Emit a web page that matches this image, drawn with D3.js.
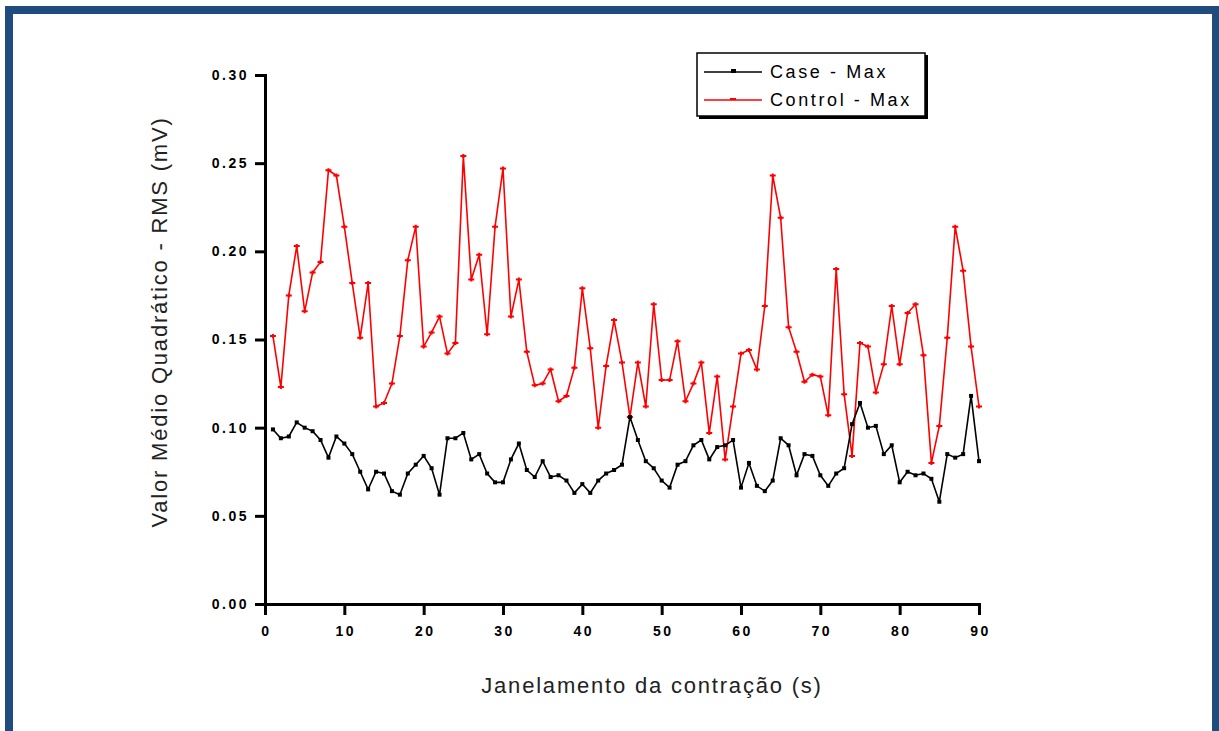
<!DOCTYPE html>
<html lang="pt">
<head>
  <meta charset="UTF-8">
  <title>RMS - Case x Control</title>
  <script src="https://d3js.org/d3.v7.min.js"></script>
  <style>
    body {
      margin: 0;
      background-color: white;
      font-family: "Liberation Sans", Arial, sans-serif;
    }
    .tick-label {
      font-size: 14px;
      font-weight: bold;
      letter-spacing: 2.5px;
      fill: #000;
    }
    .axis-title {
      font-size: 22px;
      letter-spacing: 1.8px;
      fill: #222;
    }
    .legend-text {
      font-size: 18px;
      letter-spacing: 2.6px;
      fill: #000;
    }
  </style>
</head>
<body>
  <div id="chart"></div>

  <script>
    // janelas de 1 s (1..90)
    const windows = d3.range(1, 91);

    const caseMax = [
      0.099, 0.094, 0.095, 0.103, 0.100, 0.098, 0.093, 0.083, 0.095, 0.091,
      0.085, 0.075, 0.065, 0.075, 0.074, 0.064, 0.062, 0.074, 0.079, 0.084,
      0.077, 0.062, 0.094, 0.094, 0.097, 0.082, 0.085, 0.074, 0.069, 0.069,
      0.082, 0.091, 0.076, 0.072, 0.081, 0.072, 0.073, 0.070, 0.063, 0.068,
      0.063, 0.070, 0.074, 0.076, 0.079, 0.106, 0.093, 0.081, 0.077, 0.070,
      0.066, 0.079, 0.081, 0.090, 0.093, 0.082, 0.089, 0.090, 0.093, 0.066,
      0.080, 0.067, 0.064, 0.070, 0.094, 0.090, 0.073, 0.085, 0.084, 0.073,
      0.067, 0.074, 0.077, 0.102, 0.114, 0.100, 0.101, 0.085, 0.090, 0.069,
      0.075, 0.073, 0.074, 0.071, 0.058, 0.085, 0.083, 0.085, 0.118, 0.081
    ];

    const controlMax = [
      0.152, 0.123, 0.175, 0.203, 0.166, 0.188, 0.194, 0.246, 0.243, 0.214,
      0.182, 0.151, 0.182, 0.112, 0.114, 0.125, 0.152, 0.195, 0.214, 0.146,
      0.154, 0.163, 0.142, 0.148, 0.254, 0.184, 0.198, 0.153, 0.214, 0.247,
      0.163, 0.184, 0.143, 0.124, 0.125, 0.133, 0.115, 0.118, 0.134, 0.179,
      0.145, 0.100, 0.135, 0.161, 0.137, 0.106, 0.137, 0.112, 0.170, 0.127,
      0.127, 0.149, 0.115, 0.125, 0.137, 0.097, 0.129, 0.082, 0.112, 0.142,
      0.144, 0.133, 0.169, 0.243, 0.219, 0.157, 0.143, 0.126, 0.130, 0.129,
      0.107, 0.190, 0.119, 0.084, 0.148, 0.146, 0.120, 0.136, 0.169, 0.136,
      0.165, 0.170, 0.141, 0.080, 0.101, 0.151, 0.214, 0.189, 0.146, 0.112
    ];

    const xMajor = [0, 10, 20, 30, 40, 50, 60, 70, 80, 90];
    const xMinor = [5, 15, 25, 35, 45, 55, 65, 75, 85];
    const yMajor = [0, 0.05, 0.10, 0.15, 0.20, 0.25, 0.30];
    const yMinor = [0.025, 0.075, 0.125, 0.175, 0.225, 0.275];

    const seriesNames = ['Case - Max', 'Control - Max'];
    const seriesColors = ['#000000', '#ff0000'];

    const W = 1219, H = 731;
    const margin = { top: 75, right: 240, bottom: 127, left: 265 };
    const width = W - margin.left - margin.right;   // 714
    const height = H - margin.top - margin.bottom;  // 529

    const svg = d3.select('#chart')
      .append('svg')
      .attr('width', W)
      .attr('height', H);

    // moldura azul
    svg.append('rect')
      .attr('x', 9)
      .attr('y', 10)
      .attr('width', 1207)
      .attr('height', 725)
      .attr('fill', 'none')
      .attr('stroke', '#1f4b7f')
      .attr('stroke-width', 8);

    const g = svg.append('g')
      .attr('transform', `translate(${margin.left},${margin.top})`);

    const x = d3.scaleLinear().domain([0, 90]).range([0, width]);
    const y = d3.scaleLinear().domain([0, 0.30]).range([height, 0]);

    // eixos (ticks maiores e menores)
    const xAxis = g.append('g').attr('transform', `translate(0,${height})`);
    xAxis.call(d3.axisBottom(x).tickValues(xMinor).tickSize(8).tickFormat(''));
    xAxis.call(d3.axisBottom(x).tickValues(xMajor).tickSize(11).tickFormat(d3.format('d')));

    const yAxis = g.append('g');
    yAxis.call(d3.axisLeft(y).tickValues(yMinor).tickSize(7).tickFormat(''));
    yAxis.call(d3.axisLeft(y).tickValues(yMajor).tickSize(10).tickFormat(d3.format('.2f')));

    [xAxis, yAxis].forEach(ax => {
      ax.selectAll('.domain').attr('stroke-width', 3).attr('stroke', '#000');
      ax.selectAll('.tick line').attr('stroke-width', 3).attr('stroke', '#000');
      ax.selectAll('.tick text').attr('class', 'tick-label').attr('font-family', null).attr('font-size', null);
    });
    xAxis.selectAll('.tick text').attr('dy', '1.3em').attr('dx', '1px');
    yAxis.selectAll('.tick text').attr('x', -16);

    // títulos
    g.append('text')
      .attr('class', 'axis-title')
      .attr('text-anchor', 'middle')
      .attr('x', 387)
      .attr('y', height + 89)
      .text('Janelamento da contração (s)');

    g.append('text')
      .attr('class', 'axis-title')
      .attr('text-anchor', 'middle')
      .attr('transform', 'rotate(-90)')
      .attr('x', -247)
      .attr('y', -98)
      .text('Valor Médio Quadrático - RMS (mV)');

    // linhas
    const line = d3.line()
      .x((d, i) => x(windows[i]))
      .y(d => y(d));

    g.append('path')
      .datum(controlMax)
      .attr('fill', 'none')
      .attr('stroke', seriesColors[1])
      .attr('stroke-width', 1.6)
      .attr('d', line);

    g.append('path')
      .datum(caseMax)
      .attr('fill', 'none')
      .attr('stroke', seriesColors[0])
      .attr('stroke-width', 1.6)
      .attr('d', line);

    // marcadores
    g.selectAll('.m-control')
      .data(controlMax)
      .enter()
      .append('path')
      .attr('class', 'm-control')
      .attr('transform', (d, i) => `translate(${x(windows[i])},${y(d)})`)
      .attr('d', 'M-3,0H3M0,-2V2')
      .attr('stroke', seriesColors[1])
      .attr('stroke-width', 2);

    g.selectAll('.m-case')
      .data(caseMax)
      .enter()
      .append('rect')
      .attr('class', 'm-case')
      .attr('x', (d, i) => x(windows[i]) - 2)
      .attr('y', d => y(d) - 2)
      .attr('width', 4)
      .attr('height', 4)
      .attr('fill', seriesColors[0]);

    // legenda
    const legend = svg.append('g').attr('transform', 'translate(697,53)');
    legend.append('rect')
      .attr('x', 2).attr('y', 2)
      .attr('width', 229).attr('height', 64)
      .attr('fill', '#000');
    legend.append('rect')
      .attr('width', 228).attr('height', 63)
      .attr('fill', '#fff')
      .attr('stroke', '#000')
      .attr('stroke-width', 1.5);

    seriesNames.forEach((name, i) => {
      const ly = 19 + i * 28;
      legend.append('line')
        .attr('x1', 7).attr('x2', 65)
        .attr('y1', ly).attr('y2', ly)
        .attr('stroke', seriesColors[i])
        .attr('stroke-width', 1.6);
      if (i === 0) {
        legend.append('rect')
          .attr('x', 34).attr('y', ly - 3)
          .attr('width', 5).attr('height', 4)
          .attr('fill', seriesColors[i]);
      } else {
        legend.append('path')
          .attr('d', `M33,${ly - 1}H39`)
          .attr('stroke', seriesColors[i])
          .attr('stroke-width', 2);
      }
      legend.append('text')
        .attr('class', 'legend-text')
        .attr('x', 73)
        .attr('y', ly)
        .attr('dy', '0.35em')
        .text(name);
    });
  </script>
</body>
</html>
